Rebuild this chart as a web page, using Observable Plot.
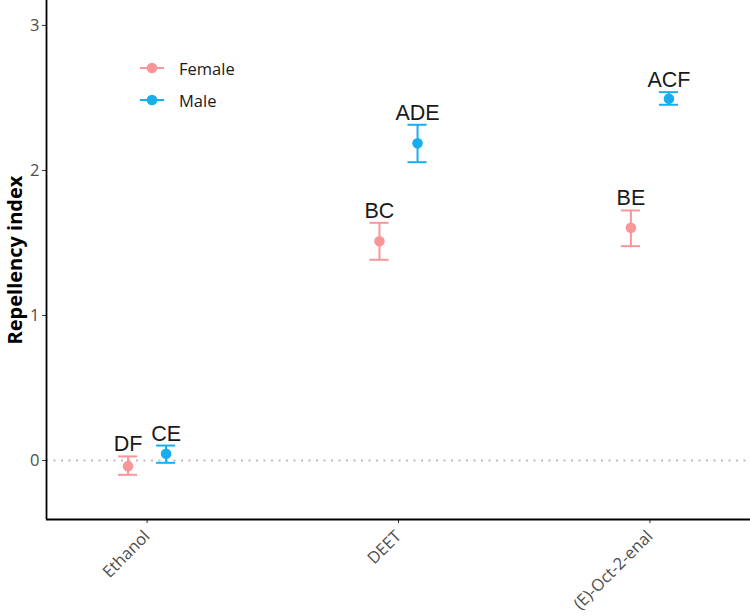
<!DOCTYPE html>
<html>
<head>
<meta charset="utf-8">
<script src="https://cdn.jsdelivr.net/npm/d3@7"></script>
<script src="https://cdn.jsdelivr.net/npm/@observablehq/plot@0.6"></script>
<style>
  html, body { margin: 0; padding: 0; background: #fff; }
  #wrap { position: relative; width: 750px; height: 616px; }
  #legend { position: absolute; left: 139px; top: 52px; font-family: "Open Sans", sans-serif; font-size: 16.5px; color: #1a1a1a; }
  #legend .row { display: flex; align-items: center; height: 32px; }
  #legend svg { margin-right: 14px; }
</style>
</head>
<body>
<div id="wrap">
  <div id="chart"></div>
  <div id="legend"></div>
</div>
<script>
// ---- data ----
const treatments = ["Ethanol", "DEET", "(E)-Oct-2-enal"];
const sexes = ["Female", "Male"];
const meanFemale = [-0.039, 1.512, 1.605];
const lowFemale  = [-0.099, 1.384, 1.478];
const highFemale = [0.028, 1.639, 1.724];
const meanMale   = [0.046, 2.188, 2.494];
const lowMale    = [-0.016, 2.057, 2.453];
const highMale   = [0.103, 2.315, 2.540];
const lettersFemale = ["DF", "BC", "BE"];
const lettersMale   = ["CE", "ADE", "ACF"];
const yTicks = [0, 1, 2, 3];
const colors = ["#F8969A", "#17AEEF"];

const rows = [];
treatments.forEach((t, i) => {
  rows.push({treatment: t, idx: i, sex: "Female", mean: meanFemale[i], low: lowFemale[i], high: highFemale[i], letters: lettersFemale[i]});
  rows.push({treatment: t, idx: i, sex: "Male", mean: meanMale[i], low: lowMale[i], high: highMale[i], letters: lettersMale[i]});
});

const dodge = {Female: -0.0757, Male: 0.0757};
const capHalf = 0.038;
const pos = d => d.idx + dodge[d.sex];

const chart = Plot.plot({
  width: 750,
  height: 616,
  marginLeft: 46,
  marginRight: 0,
  marginTop: 0,
  marginBottom: 97,
  style: {fontFamily: "Open Sans, sans-serif", background: "#fff", overflow: "visible"},
  x: {domain: [-0.4, 2.4], ticks: [0, 1, 2], tickFormat: i => treatments[i], label: null},
  y: {domain: [-0.407, 3.172], ticks: yTicks, label: null},
  color: {domain: sexes, range: colors},
  marks: [
    Plot.ruleY([0], {stroke: "#bdbdbd", strokeWidth: 2.2, strokeDasharray: "2,5.5"}),
    Plot.ruleX(rows, {x: pos, y1: "low", y2: "high", stroke: "sex", strokeWidth: 2}),
    Plot.ruleY(rows, {y: "low", x1: d => pos(d) - capHalf, x2: d => pos(d) + capHalf, stroke: "sex", strokeWidth: 2}),
    Plot.ruleY(rows, {y: "high", x1: d => pos(d) - capHalf, x2: d => pos(d) + capHalf, stroke: "sex", strokeWidth: 2}),
    Plot.dot(rows, {x: pos, y: "mean", fill: "sex", r: 5.3}),
    Plot.text(rows, {x: pos, y: "high", text: "letters", dy: -5, lineAnchor: "bottom", fontSize: 21.5, fill: "#1a1a1a", fontFamily: "Liberation Sans, Arial, sans-serif"}),
    Plot.axisY({ticks: yTicks, tickFormat: "d", tickSize: 4, tickPadding: 3, fontSize: 16.5, color: "#4d4d4d", stroke: "#333", label: null}),
    Plot.axisX({ticks: [0, 1, 2], tickFormat: i => treatments[i], tickSize: 4, tickRotate: -45, fontSize: 16.5, color: "#4d4d4d", stroke: "#333", label: null, tickPadding: 10}),
    Plot.ruleX([-0.4], {stroke: "#000", strokeWidth: 1.8}),
    Plot.ruleY([-0.407], {stroke: "#000", strokeWidth: 1.8}),
    Plot.text(["Repellency index"], {frameAnchor: "left", textAnchor: "middle", dx: -31, rotate: -90, fontSize: 20, fontWeight: "bold", fill: "#000"})
  ]
});
document.getElementById("chart").appendChild(chart);

// legend
const legend = document.getElementById("legend");
sexes.forEach((s, i) => {
  const row = document.createElement("div");
  row.className = "row";
  row.innerHTML = `<svg width="26" height="14"><line x1="1" x2="25" y1="7" y2="7" stroke="${colors[i]}" stroke-width="2"/><circle cx="13" cy="7" r="5.3" fill="${colors[i]}"/></svg><span>${s}</span>`;
  legend.appendChild(row);
});
</script>
</body>
</html>
